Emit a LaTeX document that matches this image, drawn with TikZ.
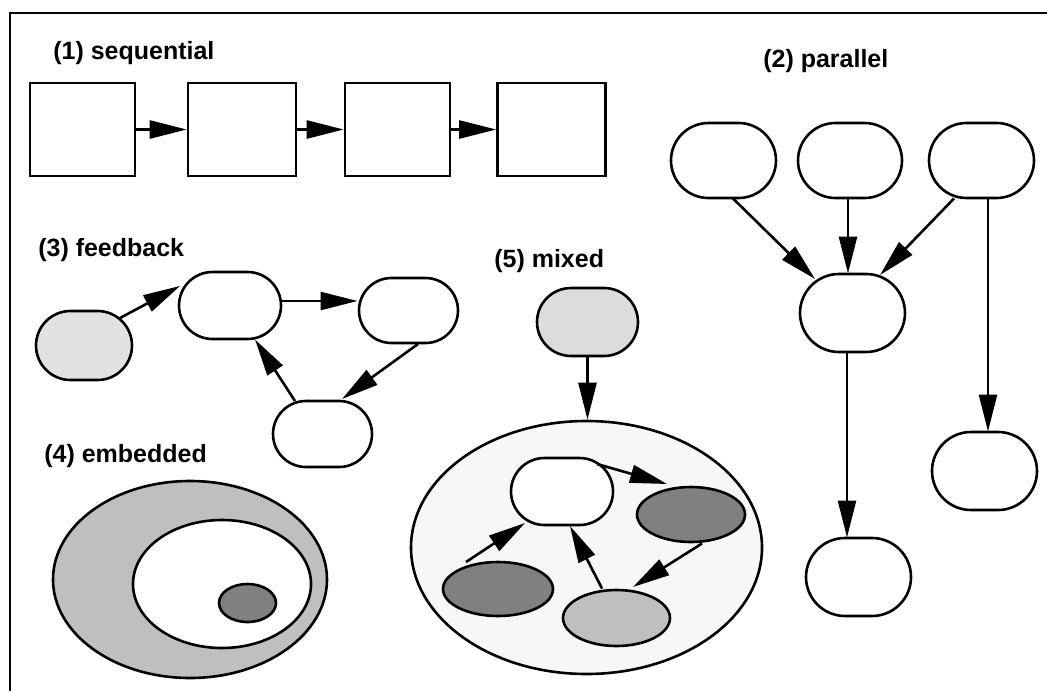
\documentclass[tikz,border=0pt]{standalone}
\usepackage{fontspec}
\setmainfont{Liberation Sans}
\usetikzlibrary{arrows.meta,shapes.geometric,shapes.misc,calc}
\definecolor{lightfill}{HTML}{E2E2E2}
\definecolor{topfill}{HTML}{DCDCDC}
\definecolor{bigfill}{HTML}{F7F7F7}
\definecolor{midfill}{HTML}{BFBFBF}
\definecolor{darkfill}{HTML}{808080}
\begin{document}
\begin{tikzpicture}[x=1pt,y=-1pt,line width=2.6pt,
  box/.style={draw,rectangle,inner sep=0pt,fill=white},
  pill/.style={draw,rounded rectangle,inner sep=0pt,fill=white},
  ell/.style={draw,ellipse,inner sep=0pt},
  arr/.style={-{Triangle[length=37pt 0 0,width=18pt 0 0]},line width=2.6pt},
  lbl/.style={anchor=base west,inner sep=0pt,font=\fontsize{25}{30}\selectfont\bfseries}]
\useasboundingbox (0,0) rectangle (1047,691);
% frame
\draw[line width=2.8pt] (10,691) -- (10,13) -- (1047,13);

% labels
\node[lbl] (L1) at (52,59) {(1) sequential};
\node[lbl] (L2) at (762,67) {(2) parallel};
\node[lbl] (L3) at (37,256) {(3) feedback};
\node[lbl] (L4) at (43,462) {(4) embedded};
\node[lbl] (L5) at (493,267) {(5) mixed};

% (1) sequential
\node[box,minimum width=105pt,minimum height=93pt] (B1) at (82.5,129.5) {};
\node[box,minimum width=108pt,minimum height=93pt] (B2) at (242,129.5) {};
\node[box,minimum width=105pt,minimum height=93pt] (B3) at (397.5,129.5) {};
\node[box,minimum width=108pt,minimum height=93pt] (B4) at (551.5,129.5) {};
\draw[arr] (B1.east) -- (B2.west);
\draw[arr] (B2.east) -- (B3.west);
\draw[arr] (B3.east) -- (B4.west);

% (2) parallel
\node[pill,minimum width=105pt,minimum height=75pt] (P1) at (723.5,160.5) {};
\node[pill,minimum width=104pt,minimum height=75pt] (P2) at (850,160.5) {};
\node[pill,minimum width=105pt,minimum height=75pt] (P3) at (981.5,160.5) {};
\node[pill,minimum width=105pt,minimum height=78pt] (P4) at (852.5,313) {};
\node[pill,minimum width=105pt,minimum height=78pt] (P5) at (858.5,577) {};
\node[pill,minimum width=105pt,minimum height=78pt] (P6) at (984.5,471) {};
\draw[arr] ($(P1)+(9.5,38)$) -- ($(P4)+(-37.5,-34)$);
\draw[arr] ($(P2)+(-2,38)$) -- ($(P4)+(-4.5,-39.5)$);
\draw[arr] ($(P3)+(-27.5,38)$) -- ($(P4)+(27.5,-38)$);
\draw[arr] ($(P3)+(6.5,38)$) -- ($(P6)+(3.5,-39.5)$);
\draw[arr] ($(P4)+(-5.5,39.5)$) -- ($(P5)+(-11.5,-39.5)$);

% (3) feedback
\node[pill,fill=lightfill,minimum width=96pt,minimum height=69pt] (F1) at (84,345.5) {};
\node[pill,minimum width=102pt,minimum height=67pt] (F2) at (230,305.5) {};
\node[pill,minimum width=99pt,minimum height=65pt] (F3) at (408.5,310.5) {};
\node[pill,minimum width=99pt,minimum height=66pt] (F4) at (322.5,434) {};
\draw[arr] ($(F1)+(36,-27.5)$) -- ($(F2)+(-50,-19.5)$);
\draw[arr] ($(F2)+(52,-4.5)$) -- ($(F3)+(-51,-9.5)$);
\draw[arr] ($(F3)+(9.5,33.5)$) -- ($(F4)+(19.5,-35)$);
\draw[arr] ($(F4)+(-27.5,-33)$) -- ($(F2)+(25,34)$);

% (4) embedded
\node[ell,fill=midfill,minimum width=274pt,minimum height=197pt] (E1) at (190,579.5) {};
\node[ell,fill=white,minimum width=178pt,minimum height=128pt] (E2) at (222,584) {};
\node[ell,fill=darkfill,minimum width=57pt,minimum height=38pt] (E3) at (247.5,603) {};

% (5) mixed
\node[pill,fill=topfill,minimum width=101pt,minimum height=68pt] (M0) at (587.5,322) {};
\node[ell,fill=bigfill,minimum width=351pt,minimum height=253pt] (MB) at (586.5,547.5) {};
\draw[arr] (M0.south) -- (M0.south |- MB.north);
\node[pill,minimum width=102pt,minimum height=67pt] (M1) at (562,491.5) {};
\node[ell,fill=darkfill,minimum width=108pt,minimum height=55pt] (M2) at (691,514.5) {};
\node[ell,fill=darkfill,minimum width=110pt,minimum height=54pt] (M3) at (498,589) {};
\node[ell,fill=midfill,minimum width=107pt,minimum height=56pt] (M4) at (616.5,618) {};
\draw[arr] ($(M1)+(35,-27.5)$) -- ($(M2)+(-24,-30.5)$);
\draw[arr] ($(M2)+(11,29)$) -- ($(M4)+(16.5,-31)$);
\draw[arr] ($(M4)+(-14.5,-29.5)$) -- ($(M1)+(8,34.5)$);
\draw[arr] ($(M3)+(-32,-27)$) -- ($(M1)+(-37,31.5)$);
\end{tikzpicture}
\end{document}
